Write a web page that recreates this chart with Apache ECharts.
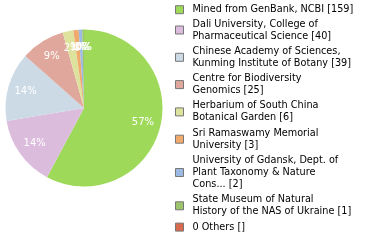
<!DOCTYPE html>
<html><head><meta charset="utf-8">
<script src="https://cdn.jsdelivr.net/npm/echarts@6/dist/echarts.min.js"></script>
<style>html,body{margin:0;padding:0;background:#fff}#c{width:380px;height:240px}</style>
</head><body><div id="c"></div>
<script>
const categories = [
  "Mined from GenBank, NCBI",
  "Dali University, College of Pharmaceutical Science",
  "Chinese Academy of Sciences, Kunming Institute of Botany",
  "Centre for Biodiversity Genomics",
  "Herbarium of South China Botanical Garden",
  "Sri Ramaswamy Memorial University",
  "University of Gdansk, Dept. of Plant Taxonomy & Nature Cons...",
  "State Museum of Natural History of the NAS of Ukraine",
  "0 Others"
];
const legendLabels = [
  "Mined from GenBank, NCBI [159]",
  "Dali University, College of\nPharmaceutical Science [40]",
  "Chinese Academy of Sciences,\nKunming Institute of Botany [39]",
  "Centre for Biodiversity\nGenomics [25]",
  "Herbarium of South China\nBotanical Garden [6]",
  "Sri Ramaswamy Memorial\nUniversity [3]",
  "University of Gdansk, Dept. of\nPlant Taxonomy & Nature\nCons... [2]",
  "State Museum of Natural\nHistory of the NAS of Ukraine [1]",
  "0 Others []"
];
const values = [159, 40, 39, 25, 6, 3, 2, 1, 0];
const colors = ["#9ed95a","#dcbcdd","#ccdae6","#e0a89c","#dde39c","#f0aa6e","#9cbae1","#9dc46c","#d9694e"];

const data = categories.map((n, i) => ({name: n, value: values[i], itemStyle: {color: colors[i]}}));
const labelMap = {};
categories.forEach((n, i) => labelMap[n] = legendLabels[i]);
const total = values.reduce((a, b) => a + b, 0);
const font = "DejaVu Sans";

const chart = echarts.init(document.getElementById('c'), null, {renderer: 'canvas'});
chart.setOption({
  animation: false,
  legend: {
    orient: 'vertical', left: 175, top: 4.7, padding: 0,
    itemWidth: 8, itemHeight: 8, itemGap: 3.3, icon: 'rect',
    itemStyle: {borderColor: '#777', borderWidth: 1},
    textStyle: {fontFamily: font, fontSize: 9.7, lineHeight: 12, color: '#000', padding: [0,0,0,4],
      rich: {first: {fontFamily: font, fontSize: 9.7, lineHeight: 8, color: '#000'}}},
    formatter: n => n === categories[0] ? '{first|' + labelMap[n] + '}' : labelMap[n],
    data: categories
  },
  series: [
    {
      type: 'pie', center: [84, 108], radius: 78.5, startAngle: 90, clockwise: true,
      silent: true, label: {show: false}, labelLine: {show: false},
      itemStyle: {borderWidth: 0},
      data: data
    },
    {
      type: 'pie', center: [84, 108], radius: [37, 78.5], startAngle: 90, clockwise: true,
      silent: true, legendHoverLink: false, avoidLabelOverlap: false, minShowLabelAngle: 0,
      itemStyle: {color: 'rgba(0,0,0,0)', borderWidth: 0},
      label: {show: true, position: 'inside', color: '#fff', fontFamily: font, fontSize: 10,
        formatter: p => Math.floor(p.value / total * 100) + '%'},
      labelLine: {show: false},
      labelLayout: {hideOverlap: false},
      data: categories.map((n, i) => ({name: n + ' ', value: values[i]}))
    }
  ]
});
</script></body></html>
